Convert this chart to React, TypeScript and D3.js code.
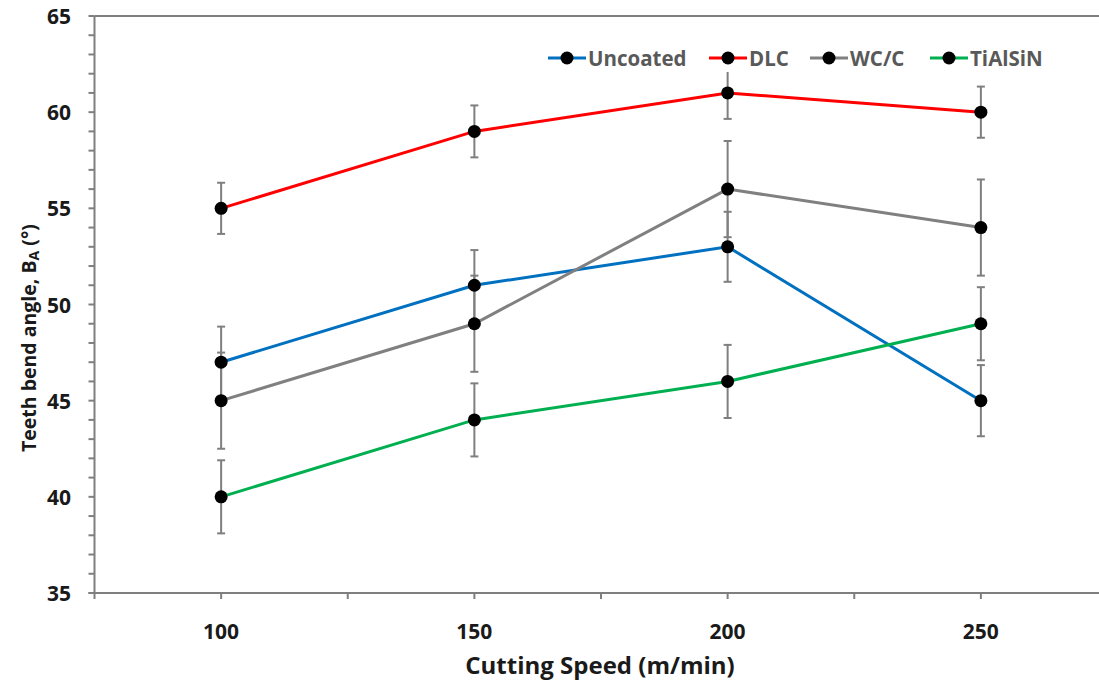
import React from "react";
import * as d3 from "d3";

// Cutting speed (m/min)
const speeds = [100, 150, 200, 250];

// Teeth bend angle (degrees) per coating
const uncoated = [47, 51, 53, 45];
const dlc = [55, 59, 61, 60];
const wcc = [45, 49, 56, 54];
const tialsin = [40, 44, 46, 49];

// Standard deviations for the error bars
const uncoatedErr = [1.85, 1.83, 1.82, 1.85];
const dlcErr = [1.33, 1.35, 1.35, 1.33];
const wccErr = [2.5, 2.5, 2.5, 2.5];
const tialsinErr = [1.9, 1.9, 1.9, 1.9];

const seriesNames = ["Uncoated", "DLC", "WC/C", "TiAlSiN"];
const seriesColors = ["#0070C0", "#FF0000", "#808080", "#00B050"];

const yTicks = [35, 40, 45, 50, 55, 60, 65];
const xLabelTicks = [100, 150, 200, 250];

const W = 1099;
const H = 680;

const FONT = "'Open Sans', 'Liberation Sans', Arial, sans-serif";
const AXIS = "#7f7f7f";
const TEXT = "#1a1a1a";

export default function App() {
  const x = d3.scaleLinear().domain([75, 275]).range([94.5, 1107.5]);
  const y = d3.scaleLinear().domain([35, 65]).range([593, 16]);

  const series = [
    { name: seriesNames[0], color: seriesColors[0], values: uncoated, err: uncoatedErr },
    { name: seriesNames[1], color: seriesColors[1], values: dlc, err: dlcErr },
    { name: seriesNames[2], color: seriesColors[2], values: wcc, err: wccErr },
    { name: seriesNames[3], color: seriesColors[3], values: tialsin, err: tialsinErr },
  ];

  const line = d3
    .line<number>()
    .x((_, i) => x(speeds[i]))
    .y((v) => y(v));

  const yMinor = d3.range(35, 65.01, 1);
  const xMinor = d3.range(100, 275.01, 25);

  const legendX = [548, 709, 810, 930];
  const legendY = 58;

  return (
    <svg width={W} height={H} style={{ position: "absolute", left: 0, top: 0, background: "#fff" }}>
      {/* axes frame */}
      <line x1={x(75)} x2={W} y1={y(65)} y2={y(65)} stroke={AXIS} strokeWidth={2} />
      <line x1={x(75)} x2={x(75)} y1={y(65)} y2={y(35) + 6} stroke={AXIS} strokeWidth={2} />
      <line x1={x(75) - 6} x2={W} y1={y(35)} y2={y(35)} stroke={AXIS} strokeWidth={2} />

      {/* y ticks */}
      {yMinor.map((v) => (
        <line key={"ym" + v} x1={x(75) - 6} x2={x(75)} y1={y(v)} y2={y(v)} stroke={AXIS} strokeWidth={2} />
      ))}
      {yTicks.map((v) => (
        <text
          key={"yl" + v}
          x={71}
          y={y(v)}
          textAnchor="end"
          dominantBaseline="central"
          fontFamily={FONT}
          fontWeight={700}
          fontSize={21}
          fill={TEXT}
        >
          {v}
        </text>
      ))}

      {/* x ticks */}
      {xMinor.map((v) => (
        <line key={"xm" + v} x1={x(v)} x2={x(v)} y1={y(35)} y2={y(35) + 6} stroke={AXIS} strokeWidth={2} />
      ))}
      {xLabelTicks.map((v) => (
        <text
          key={"xl" + v}
          x={x(v)}
          y={631}
          textAnchor="middle"
          dominantBaseline="central"
          fontFamily={FONT}
          fontWeight={700}
          fontSize={21}
          fill={TEXT}
        >
          {v}
        </text>
      ))}

      {/* axis titles */}
      <text
        x={600}
        y={664}
        textAnchor="middle"
        dominantBaseline="central"
        fontFamily={FONT}
        fontWeight={700}
        fontSize={24}
        fill={TEXT}
      >
        Cutting Speed (m/min)
      </text>
      <text
        transform={`translate(28, 452) rotate(-90)`}
        x={0}
        y={0}
        textAnchor="start"
        dominantBaseline="central"
        fontFamily={FONT}
        fontWeight={700}
        fontSize={19.5}
        fill={TEXT}
      >
        Teeth bend angle, B
        <tspan fontSize={14} dy={5}>A</tspan>
        <tspan dy={-5}> (°)</tspan>
      </text>

      {/* series: error bars, lines, markers */}
      {series.map((s) => (
        <g key={s.name}>
          {s.values.map((v, i) => {
            const cx = x(speeds[i]);
            const top = y(v + s.err[i]);
            const bot = y(v - s.err[i]);
            return (
              <g key={i} stroke={AXIS} strokeWidth={2}>
                <line x1={cx} x2={cx} y1={top} y2={bot} />
                <line x1={cx - 4} x2={cx + 4} y1={top} y2={top} />
                <line x1={cx - 4} x2={cx + 4} y1={bot} y2={bot} />
              </g>
            );
          })}
        </g>
      ))}
      {series.map((s) => (
        <g key={s.name + "-line"}>
          <path d={line(s.values) || ""} fill="none" stroke={s.color} strokeWidth={3} />
          {s.values.map((v, i) => (
            <circle key={i} cx={x(speeds[i])} cy={y(v)} r={6.5} fill="#000" />
          ))}
        </g>
      ))}

      {/* legend */}
      {series.map((s, i) => (
        <g key={s.name + "-legend"} transform={`translate(${legendX[i]}, ${legendY})`}>
          <rect x={-2} y={-14} width={40 + s.name.length * 12} height={28} fill="#fff" />
          <line x1={0} x2={38} y1={0} y2={0} stroke={s.color} strokeWidth={3} />
          <circle cx={19} cy={0} r={6.5} fill="#000" />
          <text
            x={40}
            y={0}
            dominantBaseline="central"
            fontFamily={FONT}
            fontWeight={700}
            fontSize={20.5}
            fill="#595959"
          >
            {s.name}
          </text>
        </g>
      ))}
    </svg>
  );
}
